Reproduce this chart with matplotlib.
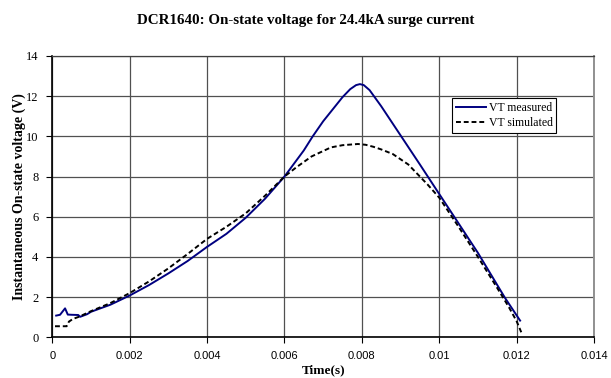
import numpy as np
import matplotlib.pyplot as plt
import matplotlib

matplotlib.rc('font', family='Liberation Serif', size=9)

# measured on-state voltage (V) vs time (s)
t_meas = [0.0001, 0.0002, 0.00033, 0.0004, 0.0005, 0.00067, 0.00072, 0.0009, 0.001,
          0.0015, 0.002, 0.0025, 0.003, 0.0035, 0.004, 0.0045, 0.005, 0.0055, 0.006,
          0.0065, 0.00673, 0.007, 0.00725, 0.0075, 0.0077, 0.00785, 0.00795, 0.00805,
          0.0082, 0.0085, 0.009, 0.0095, 0.010, 0.0104, 0.011, 0.0117, 0.01209]
v_meas = [1.08, 1.12, 1.44, 1.13, 1.12, 1.11, 1.02, 1.15, 1.27,
          1.62, 2.08, 2.6, 3.18, 3.8, 4.5, 5.15, 5.95, 6.9, 8.0,
          9.3, 10.0, 10.75, 11.35, 11.95, 12.35, 12.55, 12.6, 12.55,
          12.3, 11.5, 10.05, 8.6, 7.13, 5.96, 4.2, 1.96, 0.83]

# simulated on-state voltage
t_sim = [0.00007, 0.00037, 0.00043, 0.00053, 0.0007, 0.001, 0.0015, 0.002, 0.0025, 0.003,
         0.0035, 0.004, 0.0045, 0.005, 0.0055, 0.006, 0.0063, 0.0067, 0.0072, 0.0075,
         0.0079, 0.0081, 0.0083, 0.0085, 0.0088, 0.0092, 0.0095, 0.0097, 0.010, 0.0105,
         0.011, 0.0115, 0.0118, 0.012, 0.01212]
v_sim = [0.55, 0.55, 0.78, 0.91, 1.03, 1.3, 1.7, 2.2, 2.78, 3.43,
         4.15, 4.9, 5.5, 6.17, 7.05, 8.0, 8.45, 9.0, 9.45, 9.56,
         9.62, 9.58, 9.48, 9.35, 9.12, 8.6, 8.0, 7.6, 6.95, 5.5,
         4.0, 2.45, 1.5, 0.8, 0.25]

xticks = [0, 0.002, 0.004, 0.006, 0.008, 0.01, 0.012, 0.014]
xlabels = ['0', '0.002', '0.004', '0.006', '0.008', '0.01', '0.012', '0.014']
yticks = [0, 2, 4, 6, 8, 10, 12, 14]

fig = plt.figure(figsize=(6.11, 3.78), dpi=100)
ax = fig.add_axes([0.0856, 0.1077, 0.8866, 0.7442])

ax.plot(t_meas, v_meas, color='#000080', lw=1.4, label='VT measured', zorder=3)
ax.plot(t_sim, v_sim, color='black', lw=1.4, ls=(0, (2.5, 1.5)), label='VT simulated', zorder=4)

ax.set_xlim(0, 0.014)
ax.set_ylim(0, 14)
ax.set_xticks(xticks)
ax.set_xticklabels(xlabels, family='Liberation Sans', fontsize=8)
ax.set_yticks(yticks)
ax.set_yticklabels([str(y) for y in yticks], fontsize=9)
ax.tick_params(direction='out', length=4, width=0.8, pad=6)

ax.grid(True, color='#505050', lw=0.9)
ax.set_axisbelow(True)
for s in ['left', 'bottom']:
    ax.spines[s].set_linewidth(1.2)
    ax.spines[s].set_color('black')
ax.spines['top'].set_color('#404040')
ax.spines['top'].set_linewidth(0.9)
ax.spines['right'].set_color('#909090')
ax.spines['right'].set_linewidth(1.4)

ax.set_xlabel('Time(s)', fontweight='bold', fontsize=9.5, labelpad=2)
ax.set_ylabel('Instantaneous On-state voltage (V)', fontweight='bold', fontsize=10)
ax.yaxis.set_label_coords(-0.048, 0.5)
fig.suptitle('DCR1640: On-state voltage for 24.4kA surge current', fontweight='bold',
             fontsize=10.8, y=0.962)

leg = ax.legend(loc='upper right', bbox_to_anchor=(0.93, 0.85), fontsize=8.5,
                fancybox=False, framealpha=1, edgecolor='black', handlelength=2.6,
                borderpad=0.3, labelspacing=0.3, handletextpad=0.2, borderaxespad=0)
leg.get_frame().set_linewidth(0.8)

plt.savefig('out.png', dpi=100)
